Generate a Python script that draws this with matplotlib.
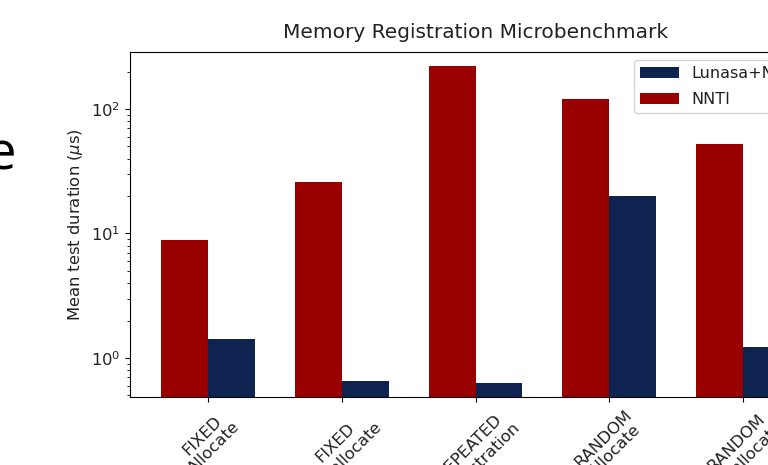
import matplotlib
matplotlib.use("Agg")
import matplotlib.pyplot as plt
import numpy as np

categories = ["FIXED\nAllocate", "FIXED\nDeallocate", "REPEATED\nRegistration",
              "RANDOM\nAllocate", "RANDOM\nDeallocate"]
series_names = ["Lunasa+NNTI", "NNTI"]
nnti = [8.87, 25.9, 221.0, 120.0, 52.3]
lunasa = [1.42, 0.653, 0.63, 20.0, 1.22]

W, H = 768, 465
fig = plt.figure(figsize=(W / 100, H / 100), dpi=100)
# axes extends past the right and bottom edges (cropped screenshot)
left, right, top, bottom = 130, 821, 52, 397
ax = fig.add_axes([left / W, (H - bottom) / H, (right - left) / W, (bottom - top) / H])

txt = "#222222"
width = 0.35
ind = np.arange(len(categories))
b_nnti = ax.bar(ind, nnti, width, color="#990000", label=series_names[1])
b_lun = ax.bar(ind + width, lunasa, width, color="#0f2350", label=series_names[0])
ax.set_yscale("log")
ax.set_ylim(0.486, 287)
ax.set_xticks(ind + width / 2)
ax.set_xticklabels(categories, rotation=45, fontsize=11.8, color=txt)
ax.tick_params(axis="y", labelsize=11.8, labelcolor=txt)
ax.set_ylabel("Mean test duration ($\\mu$s)", fontsize=11.8, color=txt)
ax.set_title("Memory Registration Microbenchmark", fontsize=14.5, pad=10, color=txt)

ax.legend([b_lun, b_nnti], series_names, loc="upper left",
          bbox_to_anchor=(634 / W, (H - 60) / H), bbox_transform=fig.transFigure,
          fontsize=11.5, borderaxespad=0, labelcolor=txt,
          handlelength=2.4, labelspacing=0.65)

fig.text(16 / W, (H - 170) / H, "e", fontsize=38, family="Open Sans",
         ha="right", va="baseline")

fig.savefig("out.png", dpi=100)
